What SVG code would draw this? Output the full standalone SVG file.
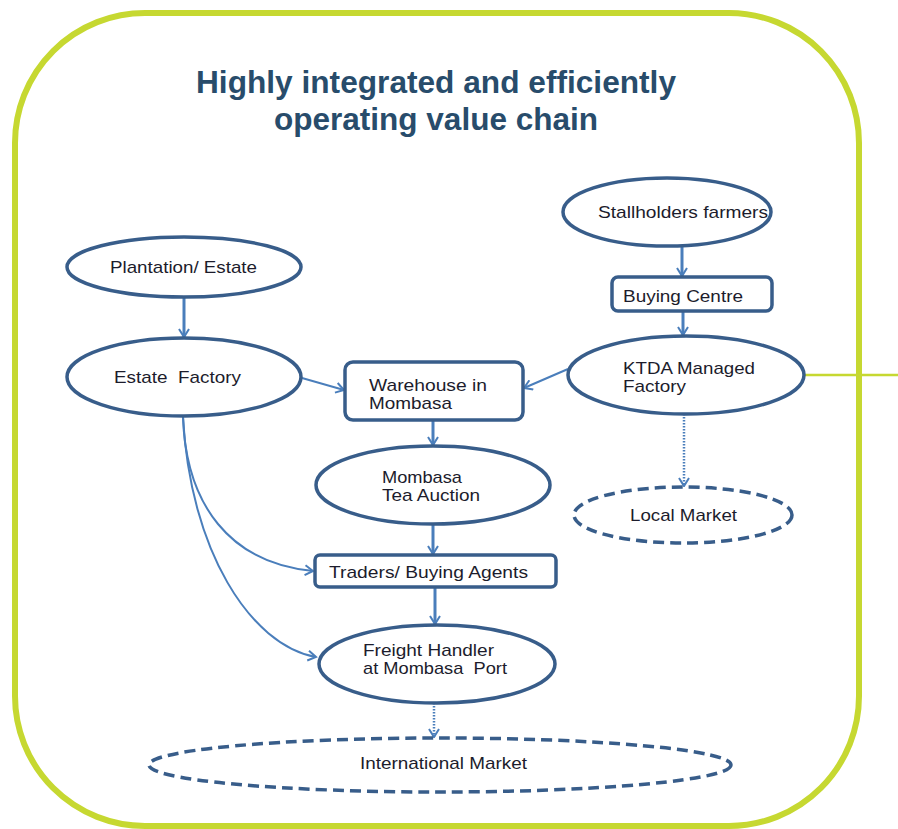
<svg xmlns="http://www.w3.org/2000/svg" width="898" height="829" viewBox="0 0 898 829">
  <style>
    .frame { fill: none; stroke: #C6D831; stroke-width: 6; }
    .node { fill: #FFFFFF; stroke: #385D8A; stroke-width: 3.5; }
    .dashed { fill: #FFFFFF; stroke: #385D8A; stroke-width: 3.5; stroke-dasharray: 11 6; }
    .label { font-family: "Liberation Sans", Arial, sans-serif; font-size: 17px; fill: #1C1C2C; white-space: pre; }
    .title { font-family: "Liberation Sans", Arial, sans-serif; font-size: 31px; font-weight: bold; fill: #284C6B; text-anchor: middle; }
    .link { fill: none; stroke: #4A7EBB; stroke-width: 2; marker-end: url(#chev); }
    .link.thick { stroke-width: 3; }
    .link.dotted { stroke-width: 2.5; stroke-dasharray: 1.5 1.5; }
  </style>
  <defs>
    <marker id="chev" viewBox="0 0 12 12" refX="10" refY="6" markerWidth="12" markerHeight="12" markerUnits="userSpaceOnUse" orient="auto">
      <path d="M2,1 L10,6 L2,11" fill="none" stroke="#4A7EBB" stroke-width="2" stroke-linejoin="miter"/>
    </marker>
  </defs>

  <rect width="898" height="829" fill="#FFFFFF"/>

  <!-- outer frame -->
  <rect class="frame" x="15" y="13" width="844" height="813" rx="130" ry="130"/>
  <line x1="805" y1="375" x2="898" y2="375" stroke="#C6D831" stroke-width="2.5"/>

  <!-- heading -->
  <text class="title" x="436" y="93" textLength="480" lengthAdjust="spacingAndGlyphs">Highly integrated and efficiently</text>
  <text class="title" x="436" y="130" textLength="324" lengthAdjust="spacingAndGlyphs">operating value chain</text>

  <!-- connectors -->
  <g id="connectors">
    <path class="link thick" d="M184,297 L184,337"/>
    <path class="link thick" d="M682,246 L682,276"/>
    <path class="link thick" d="M683,311 L683,335"/>
    <path class="link" d="M302,378 L344,390"/>
    <path class="link" d="M568,369 L524,388"/>
    <path class="link thick" d="M433,420 L433,445"/>
    <path class="link thick" d="M433,525 L433,554"/>
    <path class="link thick" d="M435,587 L435,624"/>
    <path class="link dotted" d="M684,414 L684,486"/>
    <path class="link dotted" d="M434,703 L434,737"/>
    <path class="link" d="M183,417 C186,505 230,563 313,571"/>
    <path class="link" d="M183,417 C190,550 250,645 316,657"/>
  </g>

  <!-- nodes -->
  <g id="plantation">
    <ellipse class="node" cx="184" cy="267" rx="117" ry="30"/>
    <text class="label" x="110" y="273" textLength="147" lengthAdjust="spacingAndGlyphs">Plantation/ Estate</text>
  </g>
  <g id="estate-factory">
    <ellipse class="node" cx="184" cy="377" rx="117" ry="39"/>
    <text class="label" x="114" y="383" textLength="127" lengthAdjust="spacingAndGlyphs" xml:space="preserve">Estate  Factory</text>
  </g>
  <g id="smallholders">
    <ellipse class="node" cx="667" cy="212" rx="104" ry="34"/>
    <text class="label" x="598" y="218" textLength="170" lengthAdjust="spacingAndGlyphs">Stallholders farmers</text>
  </g>
  <g id="buying-centre">
    <rect class="node" x="612" y="277" width="160" height="34" rx="6"/>
    <text class="label" x="623" y="302" textLength="120" lengthAdjust="spacingAndGlyphs">Buying Centre</text>
  </g>
  <g id="ktda-factory">
    <ellipse class="node" cx="686" cy="375" rx="118" ry="39"/>
    <text class="label" x="623" y="374" textLength="132" lengthAdjust="spacingAndGlyphs">KTDA Managed</text>
    <text class="label" x="623" y="392" textLength="63" lengthAdjust="spacingAndGlyphs">Factory</text>
  </g>
  <g id="warehouse">
    <rect class="node" x="345" y="362" width="178" height="58" rx="8"/>
    <text class="label" x="369" y="391" textLength="118" lengthAdjust="spacingAndGlyphs">Warehouse in</text>
    <text class="label" x="369" y="409" textLength="83" lengthAdjust="spacingAndGlyphs">Mombasa</text>
  </g>
  <g id="tea-auction">
    <ellipse class="node" cx="433" cy="485" rx="117" ry="39"/>
    <text class="label" x="382" y="483" textLength="80" lengthAdjust="spacingAndGlyphs">Mombasa</text>
    <text class="label" x="382" y="501" textLength="98" lengthAdjust="spacingAndGlyphs">Tea Auction</text>
  </g>
  <g id="traders">
    <rect class="node" x="315" y="555" width="241" height="32" rx="5"/>
    <text class="label" x="329" y="578" textLength="199" lengthAdjust="spacingAndGlyphs">Traders/ Buying Agents</text>
  </g>
  <g id="freight-handler">
    <ellipse class="node" cx="437" cy="664" rx="118" ry="39"/>
    <text class="label" x="363" y="656" textLength="131" lengthAdjust="spacingAndGlyphs">Freight Handler</text>
    <text class="label" x="363" y="674" textLength="144" lengthAdjust="spacingAndGlyphs" xml:space="preserve">at Mombasa  Port</text>
  </g>
  <g id="local-market">
    <ellipse class="dashed" cx="683" cy="515" rx="109" ry="28"/>
    <text class="label" x="630" y="521" textLength="107" lengthAdjust="spacingAndGlyphs">Local Market</text>
  </g>
  <g id="international-market">
    <ellipse class="dashed" cx="440" cy="765" rx="291" ry="27"/>
    <text class="label" x="360" y="769" textLength="167" lengthAdjust="spacingAndGlyphs">International Market</text>
  </g>
</svg>
